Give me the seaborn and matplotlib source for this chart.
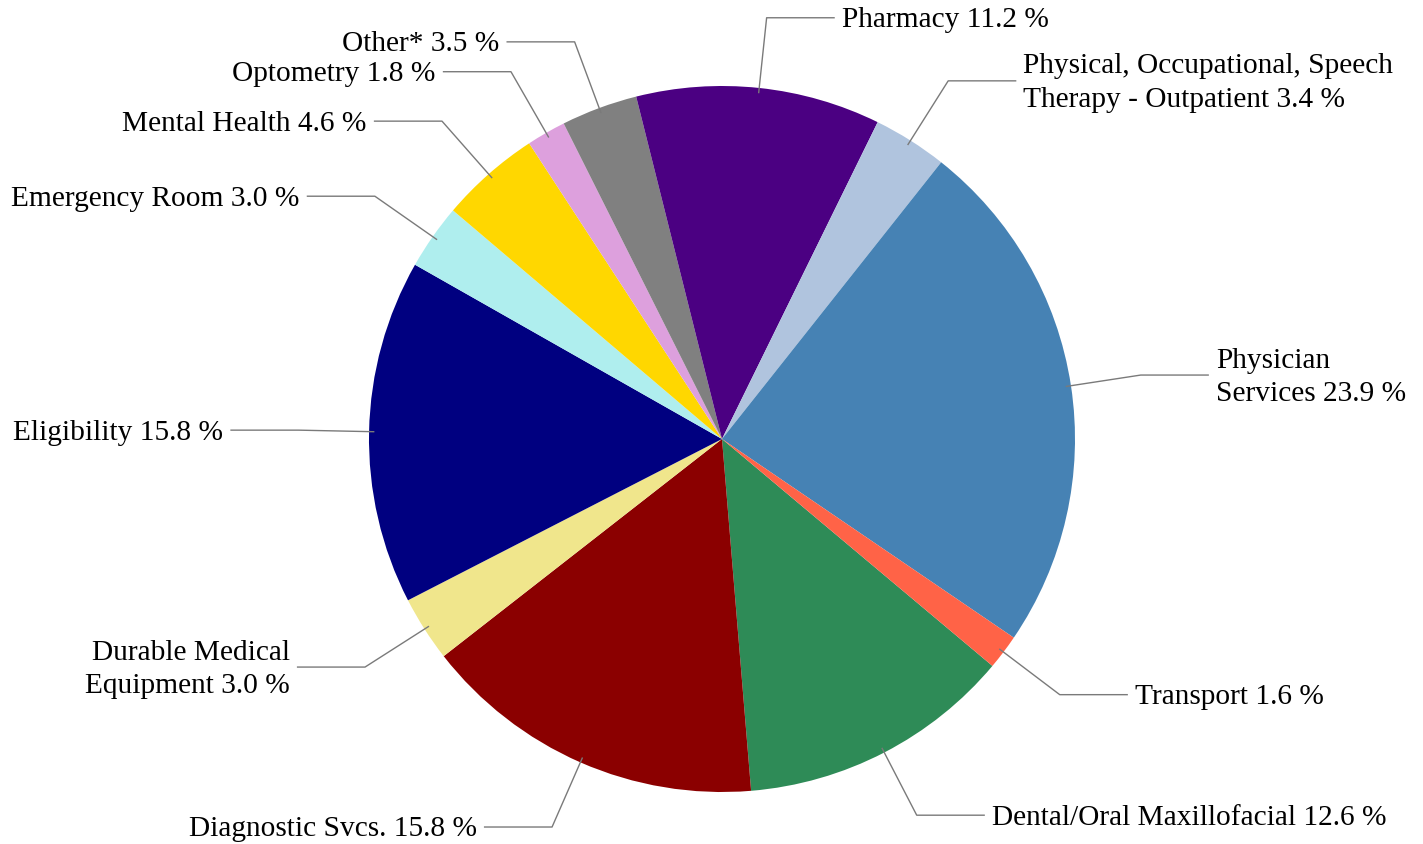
import numpy as np
import matplotlib
matplotlib.use("Agg")
import matplotlib.pyplot as plt
import seaborn as sns

# ---- data ----
categories = [
    "Dental/Oral Maxillofacial",
    "Diagnostic Svcs.",
    "Durable Medical\nEquipment",
    "Eligibility",
    "Emergency Room",
    "Mental Health",
    "Optometry",
    "Other*",
    "Pharmacy",
    "Physical, Occupational, Speech\nTherapy - Outpatient",
    "Physician\nServices",
    "Transport",
]
shares = [12.6, 15.8, 3.0, 15.8, 3.0, 4.6, 1.8, 3.5, 11.2, 3.4, 23.9, 1.6]

# ---- style ----
slice_colors = [
    "#2E8B57", "#8B0000", "#F0E68C", "#000080", "#AFEEEE", "#FFD700",
    "#DDA0DD", "#808080", "#4B0082", "#B0C4DE", "#4682B4", "#FF6347",
]

sns.set_theme(style="white")
plt.rcParams["font.family"] = ["Liberation Serif", "DejaVu Serif"]

W, H, DPI = 1423, 845, 100
R_PX = 353.0
CX, CY = 722.0, 440.0  # pie centre in pixels (from top-left)

fig = plt.figure(figsize=(W / DPI, H / DPI), dpi=DPI)
fig.patch.set_facecolor("white")
ax = fig.add_axes([0, 0, 1, 1])

palette = sns.color_palette(slice_colors)
wedges, _ = ax.pie(
    shares,
    colors=palette,
    startangle=-40.0,
    counterclock=False,
    radius=1.0,
    wedgeprops=dict(linewidth=0),
)

ax.set_xlim(-CX / R_PX, (W - CX) / R_PX)
ax.set_ylim(-(H - CY) / R_PX, CY / R_PX)
ax.set_aspect("auto")
ax.axis("off")

line_color = "#7a7a7a"
for w, name, val in zip(wedges, categories, shares):
    mid = np.deg2rad((w.theta1 + w.theta2) / 2.0)
    c, s = np.cos(mid), np.sin(mid)
    x0, y0 = 0.985 * c, 0.985 * s
    xe, ye = 1.2 * c, 1.2 * s
    side = 1 if c >= 0 else -1
    xh = xe + side * 0.193
    ax.plot([x0, xe, xh], [y0, ye, ye], color=line_color, lw=1.0,
            solid_capstyle="butt", clip_on=False)
    ax.text(xe + side * 0.213, ye - 0.004, f"{name} {val:.1f} %",
            ha="left" if side > 0 else "right", va="center",
            fontsize=21.2, color="black", linespacing=1.38)

fig.savefig("out.png", dpi=DPI, facecolor="white")
